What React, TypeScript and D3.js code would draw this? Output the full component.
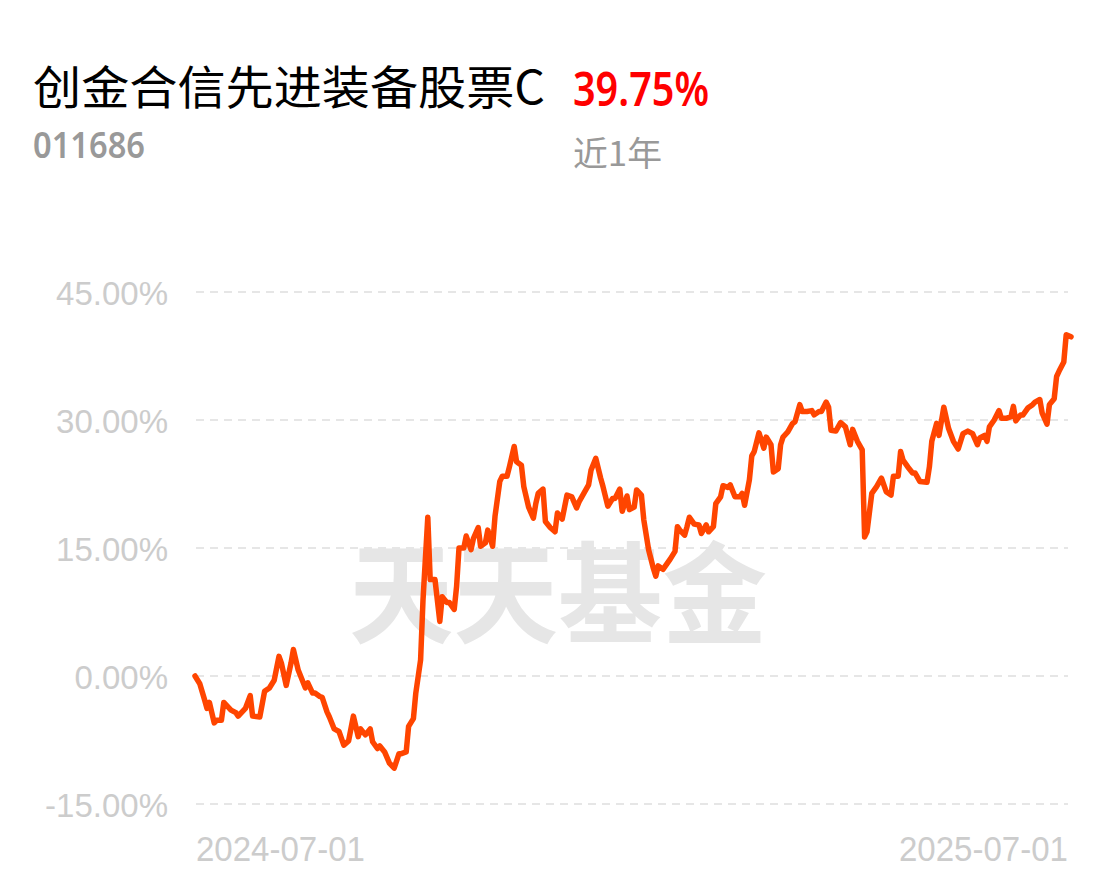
import React from "react";
import * as d3 from "d3";

const fundName = "创金合信先进装备股票C";
const fundCode = "011686";
const returnText = "39.75%";
const periodText = "近1年";
const watermark = "天天基金";

const yTicks = [-15, 0, 15, 30, 45];
const xTickLabels = ["2024-07-01", "2025-07-01"];

// days since 2024-07-01
const days = [
  0, 2, 4, 5, 6, 8, 9, 11, 12, 15, 17, 18, 21, 23, 24, 27, 29, 31, 33, 35, 36, 38, 40, 41, 43, 46, 47, 49, 50, 52,
  53, 55, 56, 58, 60, 62, 64, 66, 68, 69, 71, 73, 74, 76, 77, 79, 81, 83, 85, 86, 88, 89, 91, 92, 94, 95, 97, 98, 100, 102,
  103, 105, 106, 108, 109, 110, 112, 113, 115, 116, 118, 119, 121, 122, 124, 125, 127, 128, 130, 131, 133, 134, 136, 137, 139, 141, 142, 143, 145, 146,
  148, 150, 151, 153, 154, 155, 157, 159, 160, 162, 164, 165, 167, 169, 170, 172, 174, 175, 177, 178, 180, 181, 183, 184, 186, 187, 189, 191, 192, 193,
  195, 198, 200, 201, 202, 204, 205, 206, 208, 210, 211, 213, 214, 216, 217, 219, 220, 222, 223, 225, 227, 228, 229, 231, 232, 233, 235, 237, 238, 240,
  241, 243, 244, 245, 247, 249, 250, 252, 253, 255, 257, 258, 260, 261, 263, 264, 265, 267, 269, 271, 273, 274, 276, 278, 279, 280, 282, 284, 286, 288,
  290, 291, 293, 294, 295, 297, 299, 300, 302, 305, 306, 307, 309, 310, 312, 314, 316, 318, 320, 322, 324, 326, 327, 329, 330, 331, 333, 335, 336, 338,
  340, 341, 342, 344, 345, 347, 349, 350, 352, 353, 355, 356, 358, 359, 360, 362, 363, 365,
];

const values = [
  0.0, -0.9, -2.8, -3.8, -3.1, -5.5, -5.2, -5.2, -3.1, -4.0, -4.3, -4.7, -3.8, -2.3, -4.7, -4.8, -1.8, -1.4, -0.5, 2.3, 1.5, -1.1, 1.5, 3.1, 0.7, -1.4, -0.8, -2.0, -2.0, -2.4,
  -2.5, -4.2, -4.8, -6.2, -6.5, -8.1, -7.6, -4.7, -7.1, -6.2, -6.9, -6.2, -7.7, -8.5, -8.2, -8.9, -10.2, -10.8, -9.1, -9.1, -8.9, -5.9, -5.0, -2.0, 1.9, 8.9, 18.6, 11.3, 11.3, 6.4,
  9.3, 8.6, 8.6, 7.8, 10.5, 15.0, 15.0, 16.4, 14.8, 16.1, 17.4, 15.2, 15.6, 17.1, 15.2, 18.7, 22.8, 23.4, 23.4, 24.5, 26.9, 25.1, 24.7, 22.2, 19.8, 18.5, 20.2, 21.4, 21.9, 18.1,
  17.4, 16.9, 19.1, 18.4, 19.8, 21.2, 21.0, 19.7, 20.4, 21.4, 22.4, 24.1, 25.5, 23.2, 22.2, 19.9, 20.8, 20.8, 21.9, 19.3, 21.1, 19.5, 19.8, 21.8, 21.2, 18.3, 14.8, 12.6, 11.7, 12.9,
  12.5, 13.7, 14.6, 17.5, 17.1, 16.5, 17.5, 18.6, 17.8, 17.7, 16.7, 17.7, 16.9, 17.5, 20.2, 21.0, 22.3, 22.1, 22.4, 21.0, 21.0, 21.4, 20.0, 23.0, 25.8, 26.3, 28.5, 26.7, 28.0, 27.1,
  23.9, 24.3, 27.1, 28.0, 28.6, 29.6, 29.8, 31.8, 31.0, 31.0, 31.1, 30.6, 31.0, 31.0, 32.1, 31.5, 28.8, 28.7, 29.7, 29.2, 27.1, 28.9, 27.5, 26.5, 16.3, 16.9, 21.4, 22.2, 23.2, 21.6,
  21.2, 23.4, 23.4, 26.3, 25.3, 24.5, 23.8, 23.8, 22.8, 22.7, 24.5, 27.5, 29.6, 28.2, 31.5, 29.0, 27.5, 26.6, 28.4, 28.7, 28.4, 27.1, 27.9, 28.2, 27.5, 29.2, 30.0, 31.1, 30.2, 30.2,
  30.4, 31.6, 29.9, 30.6, 30.6, 31.4, 31.8, 32.1, 32.4, 30.8, 29.5, 31.8, 32.5, 35.1, 35.7, 36.8, 40.0, 39.75,
];

const W = 1116;
const H = 881;

export default function App() {
  const x = d3.scaleLinear().domain([0, 365]).range([195, 1071]);
  const y = d3.scaleLinear().domain([-15, 45]).range([804, 292]);
  const pts: [number, number][] = days.map((d, i) => [d, values[i]]);
  const line = d3
    .line<[number, number]>()
    .x((d) => x(d[0]))
    .y((d) => y(d[1]))
    .curve(d3.curveLinear);

  return (
    <svg
      width={W}
      height={H}
      style={{ position: "absolute", left: 0, top: 0, background: "#fff" }}
    >
      <text
        x={33}
        y={104}
        fontFamily="'Noto Sans CJK SC', sans-serif"
        fontSize={46}
        fill="#000"
        textLength={512}
        lengthAdjust="spacingAndGlyphs"
      >
        {fundName}
      </text>
      <text
        x={573}
        y={106}
        fontFamily="'Noto Sans', sans-serif"
        fontWeight={600}
        fontSize={46}
        fill="#ff0000"
        textLength={136}
        lengthAdjust="spacingAndGlyphs"
      >
        {returnText}
      </text>
      <text
        x={33}
        y={158}
        fontFamily="'Noto Sans', sans-serif"
        fontWeight={600}
        fontSize={36}
        fill="#999"
        textLength={112}
        lengthAdjust="spacingAndGlyphs"
      >
        {fundCode}
      </text>
      <text
        x={573}
        y={166}
        fontFamily="'Noto Sans CJK SC', sans-serif"
        fontSize={34}
        fill="#999"
        textLength={89}
        lengthAdjust="spacingAndGlyphs"
      >
        {periodText}
      </text>

      <text
        x={558}
        y={635}
        textAnchor="middle"
        fontFamily="'Noto Sans CJK SC', sans-serif"
        fontWeight={700}
        fontSize={110}
        fill="#e6e6e6"
        textLength={418}
        lengthAdjust="spacingAndGlyphs"
      >
        {watermark}
      </text>

      {yTicks.map((t) => (
        <g key={t}>
          <line
            x1={196}
            x2={1068}
            y1={y(t)}
            y2={y(t)}
            stroke="#e6e6e6"
            strokeWidth={2}
            strokeDasharray="8 6"
          />
          <text
            x={168}
            y={y(t) + 12.5}
            textAnchor="end"
            fontFamily="'Liberation Sans', Arial, sans-serif"
            fontSize={33}
            fill="#cccccc"
          >
            {t.toFixed(2) + "%"}
          </text>
        </g>
      ))}

      <path
        d={line(pts) || ""}
        fill="none"
        stroke="#ff4500"
        strokeWidth={5.5}
        strokeLinejoin="round"
        strokeLinecap="round"
      />

      <text
        x={196}
        y={861}
        fontFamily="'Liberation Sans', Arial, sans-serif"
        fontSize={35}
        fill="#cccccc"
        textLength={169}
        lengthAdjust="spacingAndGlyphs"
      >
        {xTickLabels[0]}
      </text>
      <text
        x={1068}
        y={861}
        textAnchor="end"
        fontFamily="'Liberation Sans', Arial, sans-serif"
        fontSize={35}
        fill="#cccccc"
        textLength={169}
        lengthAdjust="spacingAndGlyphs"
      >
        {xTickLabels[1]}
      </text>
    </svg>
  );
}
